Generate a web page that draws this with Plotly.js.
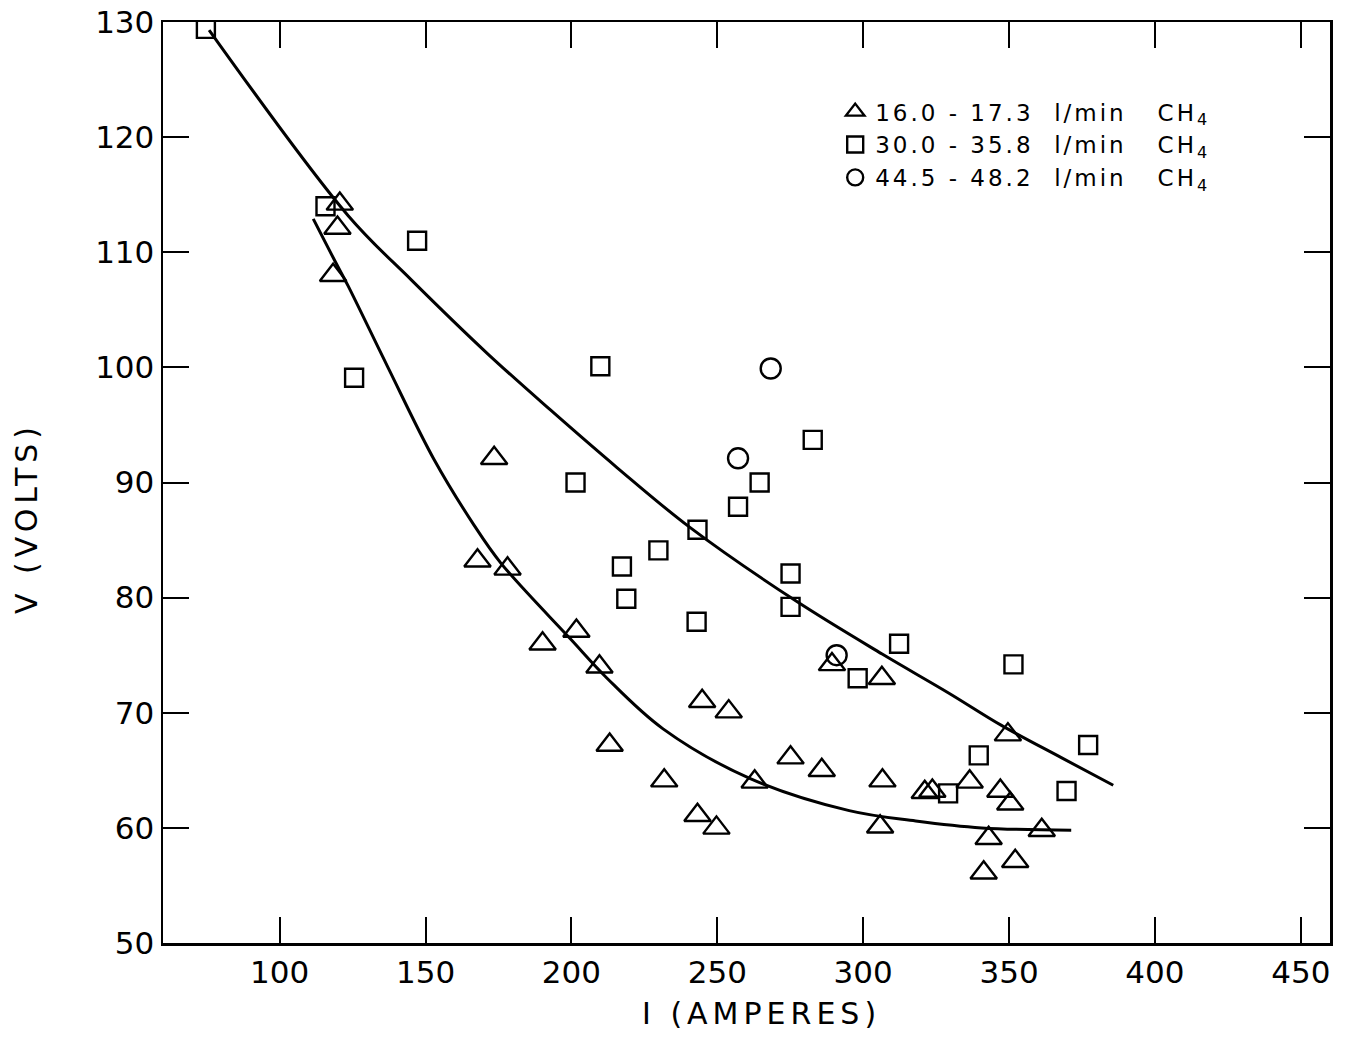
<!DOCTYPE html>
<html>
<head>
<meta charset="utf-8">
<script src="https://cdn.plot.ly/plotly-3.0.1.min.js"></script>
<style>
  html, body { margin: 0; padding: 0; background: #fff; }
  #chart { width: 1348px; height: 1039px; }
  /* wide-set lettering for the legend and axis captions */
  .legendtext { letter-spacing: 3px; }
  .annotation-text { letter-spacing: 5px; }
</style>
</head>
<body>
<div id="chart"></div>
<script>
// Arc current (A) and voltage (V) readings for three methane flow ranges
const triI = [120.6, 119.8, 118.3, 173.5, 167.8, 178.1, 190.1, 201.7, 209.6, 213.1, 231.8, 243.2, 249.7, 244.8, 253.9, 262.8, 275.1, 285.8, 289.3, 306.4, 306.6, 305.8, 321.1, 323.7, 336.5, 347.0, 350.4, 349.6, 343.0, 341.3, 352.1, 361.2];
const triV = [114.2, 112.1, 108.0, 92.1, 83.2, 82.5, 76.0, 77.1, 74.0, 67.2, 64.1, 61.1, 60.0, 71.0, 70.1, 64.0, 66.1, 65.0, 74.2, 73.0, 64.1, 60.1, 63.1, 63.2, 64.0, 63.2, 62.1, 68.1, 59.1, 56.1, 57.1, 59.8];

const sqI = [74.7, 115.7, 147.1, 125.5, 209.9, 201.4, 217.3, 218.8, 229.8, 243.2, 242.9, 257.1, 264.5, 282.7, 275.1, 275.1, 298.1, 312.3, 329.1, 339.6, 351.5, 369.7, 377.1];
const sqV = [129.4, 114.0, 111.0, 99.1, 100.1, 90.0, 82.7, 79.9, 84.1, 85.9, 77.9, 87.9, 90.0, 93.7, 82.1, 79.2, 73.0, 76.0, 63.0, 66.3, 74.2, 63.2, 67.2];

const circI = [268.3, 257.1, 290.9];
const circV = [99.9, 92.1, 75.0];

// Hand-fitted trend curves
const upperI = [75.8, 123.4, 145.1, 171.2, 192.8, 215.6, 240.6, 277.0, 306.5, 329.4, 347.4, 367.9, 385.7];
const upperV = [129.3, 113.2, 107.6, 101.2, 96.3, 91.3, 86.1, 79.7, 75.1, 71.7, 68.9, 66.1, 63.7];
const lowerI = [111.5, 118.8, 123.4, 137.1, 152.9, 166.6, 175.8, 199.7, 212.2, 231.4, 261.1, 295.2, 318.0, 340.6, 371.3];
const lowerV = [112.9, 109.3, 107.1, 100.0, 92.0, 86.3, 83.0, 76.4, 73.0, 68.6, 64.3, 61.5, 60.6, 60.0, 59.8];

const seriesNames = [
  '16.0 - 17.3  l/min   CH<sub>4</sub>',
  '30.0 - 35.8  l/min   CH<sub>4</sub>',
  '44.5 - 48.2  l/min   CH<sub>4</sub>'
];
const xTicks = [100, 150, 200, 250, 300, 350, 400, 450];
const yTicks = [50, 60, 70, 80, 90, 100, 110, 120, 130];
const xTitle = 'I (AMPERES)';
const yTitle = 'V (VOLTS)';

const FONT = 'DejaVu Sans, sans-serif';

const markerStroke = { color: '#000', line: { color: '#000', width: 2.4 } };
const curveLine = { color: '#000', width: 3, shape: 'spline', smoothing: 1 };

const traces = [
  { x: upperI, y: upperV, mode: 'lines', line: curveLine, showlegend: false, hoverinfo: 'skip' },
  { x: lowerI, y: lowerV, mode: 'lines', line: curveLine, showlegend: false, hoverinfo: 'skip' },
  { x: triI, y: triV, mode: 'markers', name: seriesNames[0],
    marker: Object.assign({ symbol: 'triangle-up-open', size: 23 }, markerStroke) },
  { x: sqI, y: sqV, mode: 'markers', name: seriesNames[1],
    marker: Object.assign({ symbol: 'square-open', size: 18 }, markerStroke) },
  { x: circI, y: circV, mode: 'markers', name: seriesNames[2],
    marker: Object.assign({ symbol: 'circle-open', size: 20 }, markerStroke) }
];

const axisCommon = {
  showline: true, linecolor: '#000', linewidth: 2.5,
  mirror: 'ticks', ticks: 'inside', ticklen: 26, tickwidth: 2, tickcolor: '#000',
  showgrid: false, zeroline: false,
  tickfont: { family: FONT, size: 31, color: '#000' }
};

const titleFont = { family: FONT, size: 30, color: '#000' };

const layout = {
  width: 1348, height: 1039,
  margin: { l: 163, r: 18, t: 22, b: 96 },
  paper_bgcolor: '#fff', plot_bgcolor: '#fff',
  font: { family: FONT, color: '#000' },
  xaxis: Object.assign({}, axisCommon, {
    range: [60, 460], tickvals: xTicks, ticktext: xTicks.map(String)
  }),
  yaxis: Object.assign({}, axisCommon, {
    range: [50, 130], tickvals: yTicks, ticktext: yTicks.map(String)
  }),
  annotations: [
    { text: xTitle, xref: 'paper', yref: 'paper', x: 0.513, y: -0.077,
      xanchor: 'center', yanchor: 'middle', showarrow: false, font: titleFont },
    { text: yTitle, xref: 'paper', yref: 'paper', x: -0.1165, y: 0.4615,
      xanchor: 'center', yanchor: 'middle', textangle: -90, showarrow: false, font: titleFont }
  ],
  legend: {
    x: 0.576, y: 0.926, xanchor: 'left', yanchor: 'top',
    bgcolor: 'rgba(0,0,0,0)', borderwidth: 0,
    font: { family: FONT, size: 23, color: '#000' }
  },
  showlegend: true
};

Plotly.newPlot('chart', traces, layout, { displayModeBar: false, staticPlot: true });
</script>
</body>
</html>
